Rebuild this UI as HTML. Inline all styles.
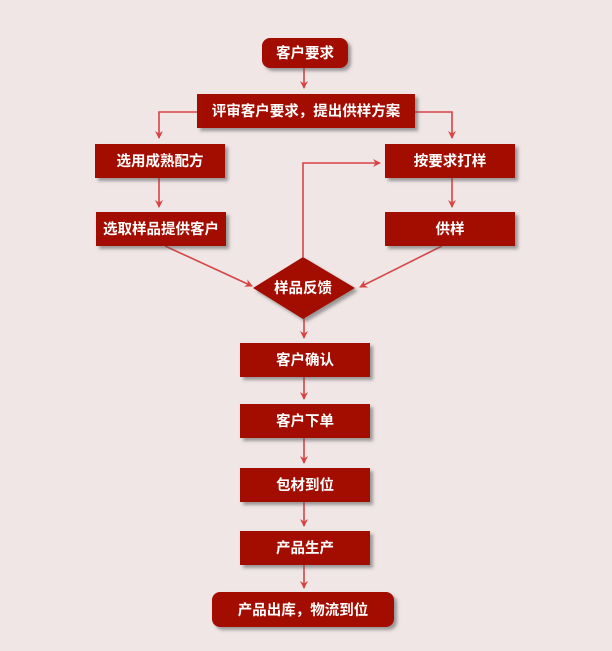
<!DOCTYPE html>
<html><head><meta charset="utf-8"><style>
html,body{margin:0;padding:0;background:#f0e6e6;}
svg{display:block}
text{font-family:"Liberation Sans","Noto Sans CJK SC",sans-serif;font-weight:bold;font-size:14.5px;fill:#fff;text-anchor:middle;dominant-baseline:central}
</style></head><body>
<svg width="612" height="651" viewBox="0 0 612 651">
<defs>
<filter id="sh" x="-10%" y="-20%" width="130%" height="160%"><feDropShadow dx="3" dy="3" stdDeviation="1.5" flood-color="#555" flood-opacity="0.55"/></filter>
<marker id="a" markerWidth="8" markerHeight="8" refX="7" refY="4" orient="auto" markerUnits="userSpaceOnUse"><path d="M0,0 L8,4 L0,8 L2.5,4 Z" fill="#d84444"/></marker>
</defs>
<g stroke="#d84444" stroke-width="1.6" fill="none">
<path d="M304,68 V88" marker-end="url(#a)"/>
<path d="M197,112 H159 V138" marker-end="url(#a)"/>
<path d="M415,112 H452 V138" marker-end="url(#a)"/>
<path d="M159,178 V207" marker-end="url(#a)"/>
<path d="M452,178 V207" marker-end="url(#a)"/>
<path d="M165,246 L252,286" marker-end="url(#a)"/>
<path d="M442,246 L360,287" marker-end="url(#a)"/>
<path d="M303,257 V163 H380" marker-end="url(#a)"/>
<path d="M304,318 V338" marker-end="url(#a)"/>
<path d="M304,377 V399" marker-end="url(#a)"/>
<path d="M304,438 V463" marker-end="url(#a)"/>
<path d="M304,502 V526" marker-end="url(#a)"/>
<path d="M304,565 V588" marker-end="url(#a)"/>
</g>
<g fill="#a30a00" filter="url(#sh)">
<rect x="262" y="38" width="86" height="30" rx="8"/>
<rect x="197" y="94" width="218" height="34"/>
<rect x="95" y="144" width="130" height="34"/>
<rect x="96" y="212" width="130" height="34"/>
<rect x="385" y="144" width="130" height="34"/>
<rect x="385" y="212" width="130" height="34"/>
<polygon points="303,257 355,288 303,319 253,288"/>
<rect x="240" y="343" width="130" height="34"/>
<rect x="240" y="404" width="130" height="34"/>
<rect x="240" y="468" width="130" height="34"/>
<rect x="240" y="531" width="130" height="34"/>
<rect x="212" y="592" width="182" height="35" rx="8"/>
</g>
<text x="305" y="54">客户要求</text>
<text x="306" y="112">评审客户要求，提出供样方案</text>
<text x="160" y="162">选用成熟配方</text>
<text x="161" y="230">选取样品提供客户</text>
<text x="450" y="162">按要求打样</text>
<text x="450" y="230">供样</text>
<text x="303" y="289">样品反馈</text>
<text x="305" y="361">客户确认</text>
<text x="305" y="422">客户下单</text>
<text x="305" y="486">包材到位</text>
<text x="305" y="549">产品生产</text>
<text x="303" y="611">产品出库，物流到位</text>
</svg>
</body></html>
